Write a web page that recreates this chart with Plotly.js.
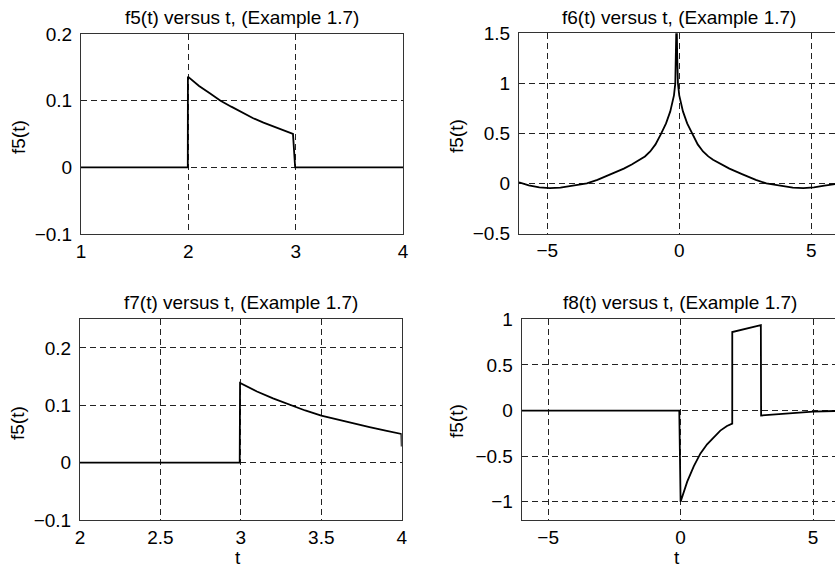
<!DOCTYPE html>
<html>
<head>
<meta charset="utf-8">
<script src="https://cdn.plot.ly/plotly-3.0.1.min.js"></script>
<style>
html,body{margin:0;padding:0;overflow:hidden;background:#fff;}
#plot{width:845px;height:574px;}
</style>
</head>
<body>
<div id="plot"></div>
<script>
// ---- data ----
const f5T = [1, 1.995, 1.996, 2.1, 2.2, 2.3, 2.4, 2.5, 2.6, 2.7, 2.8, 2.9, 2.975, 2.995, 4];
const f5V = [0, 0, 0.136, 0.122, 0.111, 0.100, 0.091, 0.082, 0.074, 0.067, 0.061, 0.055, 0.050, 0, 0];

const f6T = [-6.07, -5.7, -5.3, -4.9, -4.5, -4.1, -3.5, -3.1, -2.6, -2.1, -1.8, -1.48, -1.3, -1.1, -0.9, -0.7, -0.5, -0.34, -0.2, -0.15, -0.12, -0.1,
             -0.08, -0.05, 0.0, 0.14, 0.3, 0.5, 0.7, 0.9, 1.1, 1.28, 1.6, 1.9, 2.4, 2.9, 3.3, 3.9, 4.3, 4.7, 5.1, 5.5, 5.87, 6.07];
const f6V = [0.012, -0.02, -0.04, -0.047, -0.042, -0.028, 0.0, 0.035, 0.09, 0.148, 0.19, 0.237, 0.27, 0.32, 0.39, 0.49, 0.6, 0.72, 0.88, 1.0, 1.3, 1.7,
             1.3, 1.0, 0.88, 0.72, 0.6, 0.49, 0.39, 0.32, 0.27, 0.237, 0.19, 0.148, 0.09, 0.035, 0.0, -0.028, -0.042, -0.047, -0.04, -0.022, -0.008, 0.0];

const f7T = [2, 2.993, 2.995, 3.1, 3.2, 3.3, 3.4, 3.5, 3.6, 3.7, 3.8, 3.9, 3.998, 4.0];
const f7V = [0, 0, 0.139, 0.124, 0.112, 0.101, 0.091, 0.082, 0.075, 0.068, 0.062, 0.056, 0.050, 0.028];

const f8T = [-6, -0.05, 0, 0.25, 0.5, 0.75, 1.0, 1.25, 1.5, 1.75, 1.95, 1.951, 3.03, 3.04, 4, 5, 6];
const f8V = [0, 0, -1.0, -0.78, -0.61, -0.47, -0.37, -0.29, -0.22, -0.17, -0.143, 0.86, 0.935, -0.054, -0.03, -0.012, -0.004];

const titles = ["f5(t) versus t, (Example 1.7)", "f6(t) versus t, (Example 1.7)",
                "f7(t) versus t, (Example 1.7)", "f8(t) versus t, (Example 1.7)"];
const yLabel = "f5(t)";
const xLabel = "t";

// ---- layout geometry (pixels) ----
const W = 845, H = 574;
const FONT = "Liberation Sans, Arial, Helvetica, sans-serif";
const FS = 19;
const xd = (a, b) => [a / W, b / W];
const yd = (top, bot) => [1 - bot / H, 1 - top / H];
const px = (x) => x / W;
const py = (y) => 1 - y / H;

const lineStyle = {color: '#000', width: 1.8};

function axis(extra) {
  return Object.assign({
    showline: true, mirror: true, linecolor: '#333', linewidth: 1,
    showgrid: true, gridcolor: '#222', gridwidth: 1, griddash: '6px,4px',
    zeroline: false, ticks: '',
    tickfont: {family: FONT, size: FS, color: '#000'},
    fixedrange: true
  }, extra);
}
const xa = (o) => axis(Object.assign({ticklabelstandoff: 0}, o));
const ya = (o) => axis(Object.assign({ticklabelstandoff: 4}, o));

const traces = [
  {x: f5T, y: f5V, xaxis: 'x', yaxis: 'y', mode: 'lines', line: lineStyle, hoverinfo: 'skip'},
  {x: f6T, y: f6V, xaxis: 'x2', yaxis: 'y2', mode: 'lines', line: lineStyle, hoverinfo: 'skip'},
  {x: f7T, y: f7V, xaxis: 'x3', yaxis: 'y3', mode: 'lines', line: lineStyle, hoverinfo: 'skip'},
  {x: f8T, y: f8V, xaxis: 'x4', yaxis: 'y4', mode: 'lines', line: lineStyle, hoverinfo: 'skip'}
];

function ann(text, x, y, angle) {
  return {text: text, xref: 'paper', yref: 'paper', x: px(x), y: py(y),
          xanchor: 'center', yanchor: 'middle', showarrow: false,
          textangle: angle || 0, font: {family: FONT, size: FS, color: '#000'}};
}

const layout = {
  width: W, height: H,
  margin: {l: 0, r: 0, t: 0, b: 0},
  paper_bgcolor: '#fff', plot_bgcolor: '#fff',
  showlegend: false,
  font: {family: FONT, size: FS, color: '#000'},
  xaxis:  xa({domain: xd(81, 403), range: [1, 4], tick0: 1, dtick: 1, anchor: 'y'}),
  yaxis:  ya({domain: yd(34, 234), range: [-0.1, 0.2], tick0: 0, dtick: 0.1, anchor: 'x'}),
  xaxis2: xa({domain: xd(519, 839.5), range: [-6.07, 6.07], tick0: 0, dtick: 5, anchor: 'y2'}),
  yaxis2: ya({domain: yd(33.3, 233.5), range: [-0.5, 1.5], tick0: 0, dtick: 0.5, anchor: 'x2'}),
  xaxis3: xa({domain: xd(80, 401.7), range: [2, 4], tick0: 2, dtick: 0.5, anchor: 'y3'}),
  yaxis3: ya({domain: yd(319.3, 520), range: [-0.1, 0.25], tick0: 0, dtick: 0.1, anchor: 'x3'}),
  xaxis4: xa({domain: xd(521.7, 839.5), range: [-6, 6], tick0: 0, dtick: 5, anchor: 'y4'}),
  yaxis4: ya({domain: yd(319.3, 520), range: [-1.2, 1], tick0: 0, dtick: 0.5, anchor: 'x4'}),
  annotations: [
    ann(titles[0], 242, 17.5),
    ann(titles[1], 679, 17.5),
    ann(titles[2], 241, 302.5),
    ann(titles[3], 680, 302.5),
    ann(yLabel, 18, 137, -90),
    ann(yLabel, 456, 136, -90),
    ann(yLabel, 17, 423, -90),
    ann(yLabel, 456, 421, -90),
    ann(xLabel, 238, 557),
    ann(xLabel, 677, 557)
  ]
};

Plotly.newPlot('plot', traces, layout, {displayModeBar: false, staticPlot: true});
</script>
</body>
</html>
